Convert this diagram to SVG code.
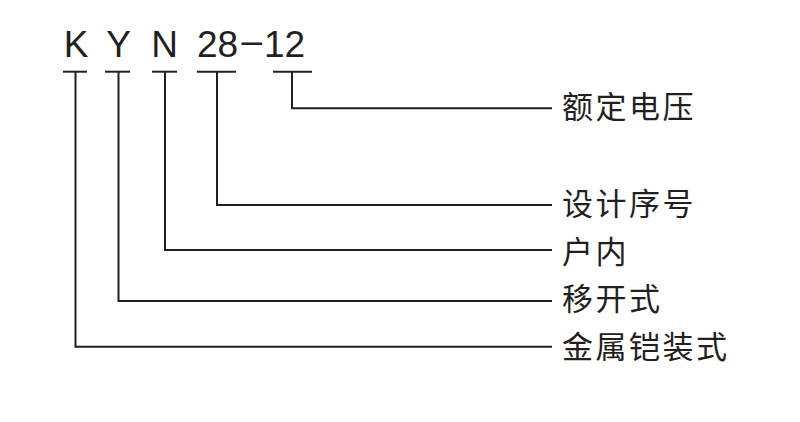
<svg xmlns="http://www.w3.org/2000/svg" width="800" height="422" viewBox="0 0 800 422">
<style>
.code{font-family:"Liberation Sans",Arial,sans-serif;font-size:37px;fill:#231f20}
.mid{text-anchor:middle}
.lbl{font-family:"Noto Sans CJK SC",sans-serif;font-size:31px;fill:#231f20;letter-spacing:2.5px}
.ln{fill:none;stroke:#231f20;stroke-width:2}
</style>
<rect width="800" height="422" fill="#ffffff"/>
<g id="code-K"><text class="code mid" x="76" y="56.7">K</text><path class="ln" d="M63 71.7H87"/></g>
<g id="code-Y"><text class="code mid" x="118.5" y="56.7">Y</text><path class="ln" d="M105 71.7H130"/></g>
<g id="code-N"><text class="code mid" x="164.5" y="56.7">N</text><path class="ln" d="M152 71.7H177"/></g>
<g id="code-28"><text class="code" x="197" y="56.7">28</text><path class="ln" d="M197 71.7H236"/></g>
<g id="code-dash"><text class="code" x="241.5" y="52.5">–</text></g>
<g id="code-12"><text class="code" x="264" y="56.7">12</text><path class="ln" d="M273 71.7H312"/></g>
<g id="connectors">
<path class="ln" d="M292 71.7V108.3H552"/>
<path class="ln" d="M217 71.7V205H552"/>
<path class="ln" d="M165 71.7V250H552"/>
<path class="ln" d="M118.5 71.7V301H552"/>
<path class="ln" d="M75.5 71.7V346.7H552"/>
</g>
<g id="label-voltage"><text class="lbl" x="562" y="117.6">额定电压</text></g>
<g id="label-design"><text class="lbl" x="562" y="215.3">设计序号</text></g>
<g id="label-indoor"><text class="lbl" x="562" y="263.3">户内</text></g>
<g id="label-withdrawable"><text class="lbl" x="562" y="309.8">移开式</text></g>
<g id="label-metalclad"><text class="lbl" x="562" y="357.6">金属铠装式</text></g>
</svg>
